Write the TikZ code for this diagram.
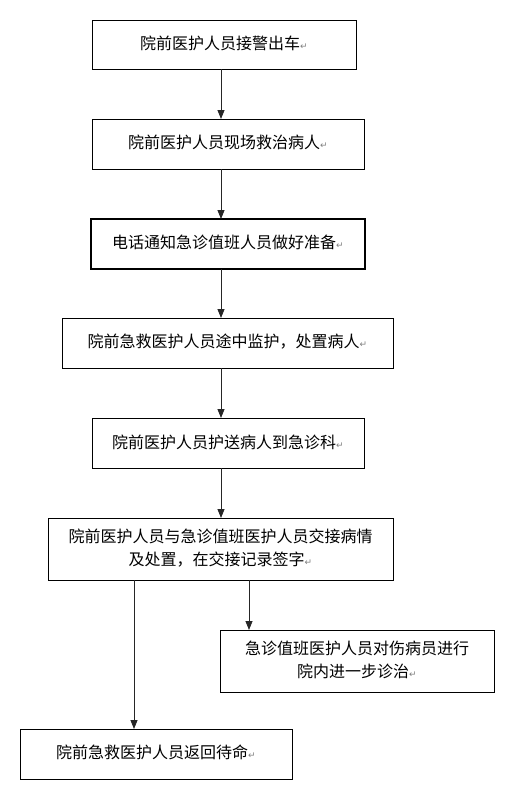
\documentclass[tikz,border=0pt]{standalone}
\usepackage{fontspec}
\newfontfamily\cjk{Noto Sans CJK SC}
\newfontfamily\dejavu{DejaVu Sans}
\usetikzlibrary{arrows.meta}
\newcommand{\pmark}{{\dejavu\fontsize{9}{9}\selectfont\textcolor{gray}{↵}}}
\tikzset{
  box/.style={draw=black, line width=0.8pt, rectangle, inner sep=0pt, outer sep=0pt, align=center,
    font=\cjk\fontsize{16}{24.5}\selectfont},
  arr/.style={draw=black!85, line width=0.8pt, -{Triangle[width=7pt,length=9pt]}},
}
\begin{document}
\begin{tikzpicture}[x=1pt,y=-1pt]
\useasboundingbox (0,0) rectangle (517,803);
\fill[white] (0,0) rectangle (517,803);
\node[box, minimum width=264pt, minimum height=49pt] (b1) at (224,44.5) {\raisebox{3pt}{院前医护人员接警出车\pmark}};
\node[box, minimum width=272pt, minimum height=50pt] (b2) at (228,144) {\raisebox{4pt}{院前医护人员现场救治病人\pmark}};
\node[box, line width=1.6pt, minimum width=274pt, minimum height=50pt] (b3) at (228,244) {\raisebox{4pt}{电话通知急诊值班人员做好准备\pmark}};
\node[box, minimum width=331pt, minimum height=50pt] (b4) at (227.5,343) {\raisebox{4pt}{院前急救医护人员途中监护，处置病人\pmark}};
\node[box, minimum width=272pt, minimum height=50pt] (b5) at (228,443) {\raisebox{3pt}{院前医护人员护送病人到急诊科\pmark}};
\node[box, minimum width=345pt, minimum height=62pt] (b6) at (220.5,549) {\begin{tabular}{@{}c@{}}院前医护人员与急诊值班医护人员交接病情\\[-1pt]及处置，在交接记录签字\pmark\end{tabular}};
\node[box, minimum width=274pt, minimum height=62pt] (b7) at (357,661) {\begin{tabular}{@{}c@{}}急诊值班医护人员对伤病员进行\\[-1pt]院内进一步诊治\pmark\end{tabular}};
\node[box, minimum width=272pt, minimum height=50pt] (b8) at (156,754) {\raisebox{5pt}{院前急救医护人员返回待命\pmark}};
\coordinate (xa) at (221,0);
\coordinate (xb) at (249,0);
\coordinate (xc) at (134,0);
\draw[arr] (b1.south -| xa) -- (b2.north -| xa);
\draw[arr] (b2.south -| xa) -- (b3.north -| xa);
\draw[arr] (b3.south -| xa) -- (b4.north -| xa);
\draw[arr] (b4.south -| xa) -- (b5.north -| xa);
\draw[arr] (b5.south -| xa) -- (b6.north -| xa);
\draw[arr] (b6.south -| xb) -- (b7.north -| xb);
\draw[arr] (b6.south -| xc) -- (b8.north -| xc);
\end{tikzpicture}
\end{document}
